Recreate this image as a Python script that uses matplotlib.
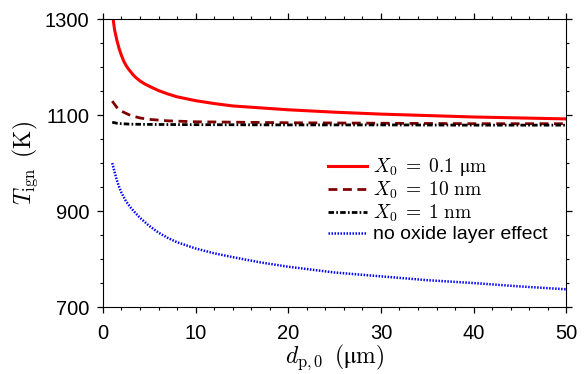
#!/usr/bin/env python3
"""Ignition temperature vs initial particle diameter for several oxide layer thicknesses."""

import matplotlib

matplotlib.use("Agg")
import matplotlib.pyplot as plt
from matplotlib.ticker import MultipleLocator

plt.rcParams["font.family"] = ["Liberation Sans", "DejaVu Sans"]
plt.rcParams["mathtext.fontset"] = "cm"

# X0 = 0.1 um
d_red = [1.0, 1.1, 1.25, 1.5, 1.75, 2.0, 2.25, 2.5, 2.75, 3.0, 3.25, 3.5, 4.0, 4.5,
         5.0, 6.0, 7.0, 8.0, 10, 12, 14, 17, 20, 25, 30, 35, 40, 45, 50]
t_red = [1325, 1300, 1278, 1256, 1238, 1224, 1212, 1203, 1196, 1190, 1184, 1179,
         1171, 1165, 1160, 1151, 1144, 1138, 1130, 1124, 1119, 1115, 1111, 1106,
         1102, 1099, 1096, 1094, 1092]

# X0 = 10 nm
d_dash = [1.0, 1.5, 2.0, 3.0, 4.0, 5.0, 7.0, 10, 15, 20, 30, 40, 50]
t_dash = [1129, 1116, 1108, 1099, 1094, 1091, 1088, 1086, 1085, 1084, 1083, 1082, 1082]

# X0 = 1 nm
d_dot = [1.0, 1.5, 2.0, 3.0, 5.0, 10, 20, 30, 40, 50]
t_dot = [1085, 1083, 1082, 1081, 1080.5, 1080, 1079.5, 1079.5, 1079, 1079]

# no oxide layer effect
d_blue = [1.0, 1.25, 1.5, 1.75, 2.0, 2.5, 3.0, 3.5, 4.0, 5.0, 6.0, 7.0, 8.0, 10,
          12, 14, 17, 20, 25, 30, 35, 40, 45, 50]
t_blue = [1000, 982, 964, 950, 938, 920, 907, 896, 886, 869, 855, 844, 835, 822,
          812, 804, 793, 784, 772, 764, 756, 750, 743, 737]

y_ticks = [700, 900, 1100, 1300]

labels = [r"$X_0\;=\;0.1\ \mathrm{μm}$", r"$X_0\;=\;10\ \mathrm{nm}$",
          r"$X_0\;=\;1\ \mathrm{nm}$", "no oxide layer effect"]


def main() -> None:
    fig = plt.figure(figsize=(5.85, 3.74), dpi=100)
    ax = fig.add_axes([0.176, 0.179, 0.792, 0.770])

    ax.plot(d_red, t_red, color="#ff0000", lw=2.2, label=labels[0])
    ax.plot(d_dash, t_dash, color="#800000", lw=2.0, ls=(0, (3.2, 2.0)), label=labels[1])
    ax.plot(d_dot, t_dot, color="black", lw=2.0, ls=(0, (2.0, 0.8, 0.6, 0.8)), label=labels[2])
    ax.plot(d_blue, t_blue, color="#0000ff", lw=1.8, ls=(0, (0.6, 0.6)), label=labels[3])

    ax.set_xlim(0, 50)
    ax.set_ylim(700, 1300)
    ax.xaxis.set_major_locator(MultipleLocator(10))
    ax.xaxis.set_minor_locator(MultipleLocator(2))
    ax.set_yticks(y_ticks)
    ax.yaxis.set_minor_locator(MultipleLocator(50))
    ax.tick_params(which="both", direction="out", top=True, right=True, labelsize=14.5)
    ax.tick_params(which="major", length=4, width=0.9)
    ax.tick_params(which="minor", length=2.5, width=0.8)
    ax.tick_params(axis="x", pad=8)
    ax.tick_params(axis="y", pad=6)

    ax.set_xlabel(r"$d_{\mathrm{p},0}\ \,(\mathrm{μm})$", fontsize=17, labelpad=0)
    ax.set_ylabel(r"$T_{\mathrm{ign}}\ \,(\mathrm{K})$", fontsize=17, labelpad=3)

    ax.legend(loc="upper left", bbox_to_anchor=(0.47, 0.55), frameon=False,
              fontsize=14, handlelength=2.0, handletextpad=0.3, labelspacing=0.08,
              borderaxespad=0)

    fig.savefig("out.png", dpi=100)
    plt.close(fig)


if __name__ == "__main__":
    main()
